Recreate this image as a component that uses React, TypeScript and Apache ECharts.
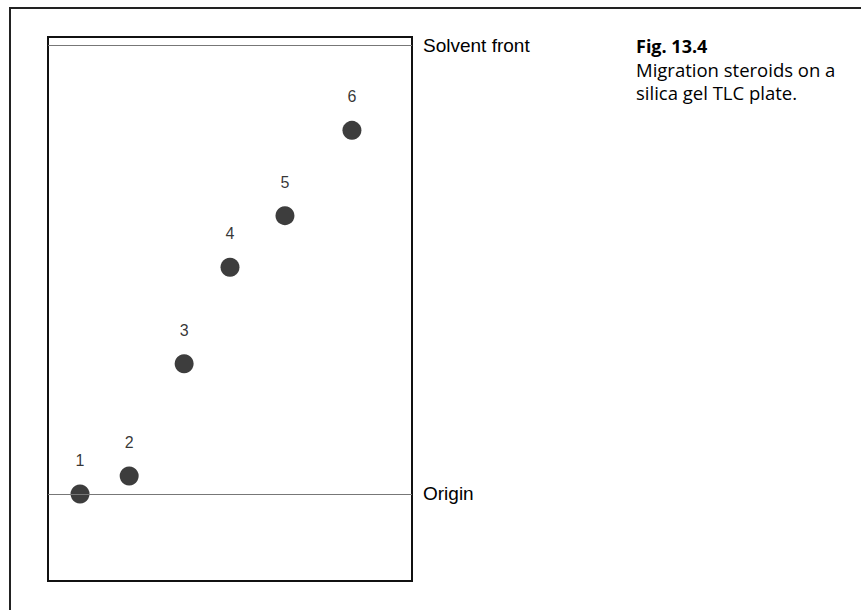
import React, { useEffect, useRef } from "react";
import * as echarts from "echarts";

// Spot numbers, lane position across the plate (0-100) and Rf value
const spotNames = ["1", "2", "3", "4", "5", "6"];
const lanePositions = [8.8, 22.3, 37.4, 50.0, 65.1, 83.5];
const rfValues = [0.0, 0.04, 0.29, 0.505, 0.62, 0.81];

const solventFrontRf = 1;
const originRf = 0;
const plateBottomRf = -0.194;
const plateTopRf = 1.018;

const captionTitle = "Fig. 13.4";
const captionLines = ["Migration steroids on a", "silica gel TLC plate."];

export default function App() {
  const ref = useRef<HTMLDivElement>(null);
  useEffect(() => {
    if (!ref.current) return;
    const chart = echarts.init(ref.current, null, { renderer: "svg" });
    const data = spotNames.map((n, i) => ({ name: n, value: [lanePositions[i], rfValues[i]] }));
    const captionLineY = [46, 69, 92];
    chart.setOption({
      animation: false,
      backgroundColor: "#fff",
      textStyle: { fontFamily: "Liberation Sans" },
      grid: {
        left: 48,
        top: 37,
        width: 364,
        height: 544,
        show: true,
        borderColor: "#111",
        borderWidth: 2,
        backgroundColor: "transparent",
      },
      xAxis: {
        type: "value",
        min: 0,
        max: 100,
        show: false,
        splitLine: { show: false },
      },
      yAxis: {
        type: "value",
        min: plateBottomRf,
        max: plateTopRf,
        show: false,
        splitLine: { show: false },
      },
      series: [
        {
          type: "scatter",
          data,
          symbol: "circle",
          symbolSize: 19,
          itemStyle: { color: "#0d0d0d" },
          label: {
            show: true,
            position: "top",
            distance: 16,
            formatter: "{b}",
            color: "#000",
            fontSize: 16,
            fontFamily: "Liberation Sans",
          },
          markLine: {
            silent: true,
            symbol: ["none", "none"],
            lineStyle: { color: "#777", width: 1, type: "solid" },
            label: {
              show: true,
              position: "end",
              distance: 11,
              color: "#000",
              fontSize: 19,
              fontFamily: "Liberation Sans",
              formatter: "{b}",
            },
            data: [
              { name: "Solvent front", yAxis: solventFrontRf },
              { name: "Origin", yAxis: originRf },
            ],
          },
          z: 3,
        },
      ],
      graphic: [
        {
          type: "line",
          shape: { x1: 10, y1: 8, x2: 10, y2: 610 },
          style: { stroke: "#222", lineWidth: 2 },
        },
        {
          type: "line",
          shape: { x1: 9, y1: 8, x2: 861, y2: 8 },
          style: { stroke: "#222", lineWidth: 2 },
        },
        {
          type: "text",
          x: 636,
          y: captionLineY[0],
          style: {
            text: captionTitle,
            fontFamily: "Open Sans",
            fontWeight: "bold",
            fontSize: 18,
            lineHeight: 20,
            fill: "#000",
            verticalAlign: "middle",
          },
        },
        ...captionLines.map((t, i) => ({
          type: "text",
          x: 636,
          y: captionLineY[i + 1],
          style: {
            text: t,
            fontFamily: "Open Sans",
            fontSize: 18.5,
            lineHeight: 21,
            fill: "#000",
            verticalAlign: "middle",
          },
        })),
      ],
    });
    return () => chart.dispose();
  }, []);
  return (
    <div
      ref={ref}
      style={{ position: "fixed", left: 0, top: 0, width: 861, height: 610 }}
    />
  );
}
